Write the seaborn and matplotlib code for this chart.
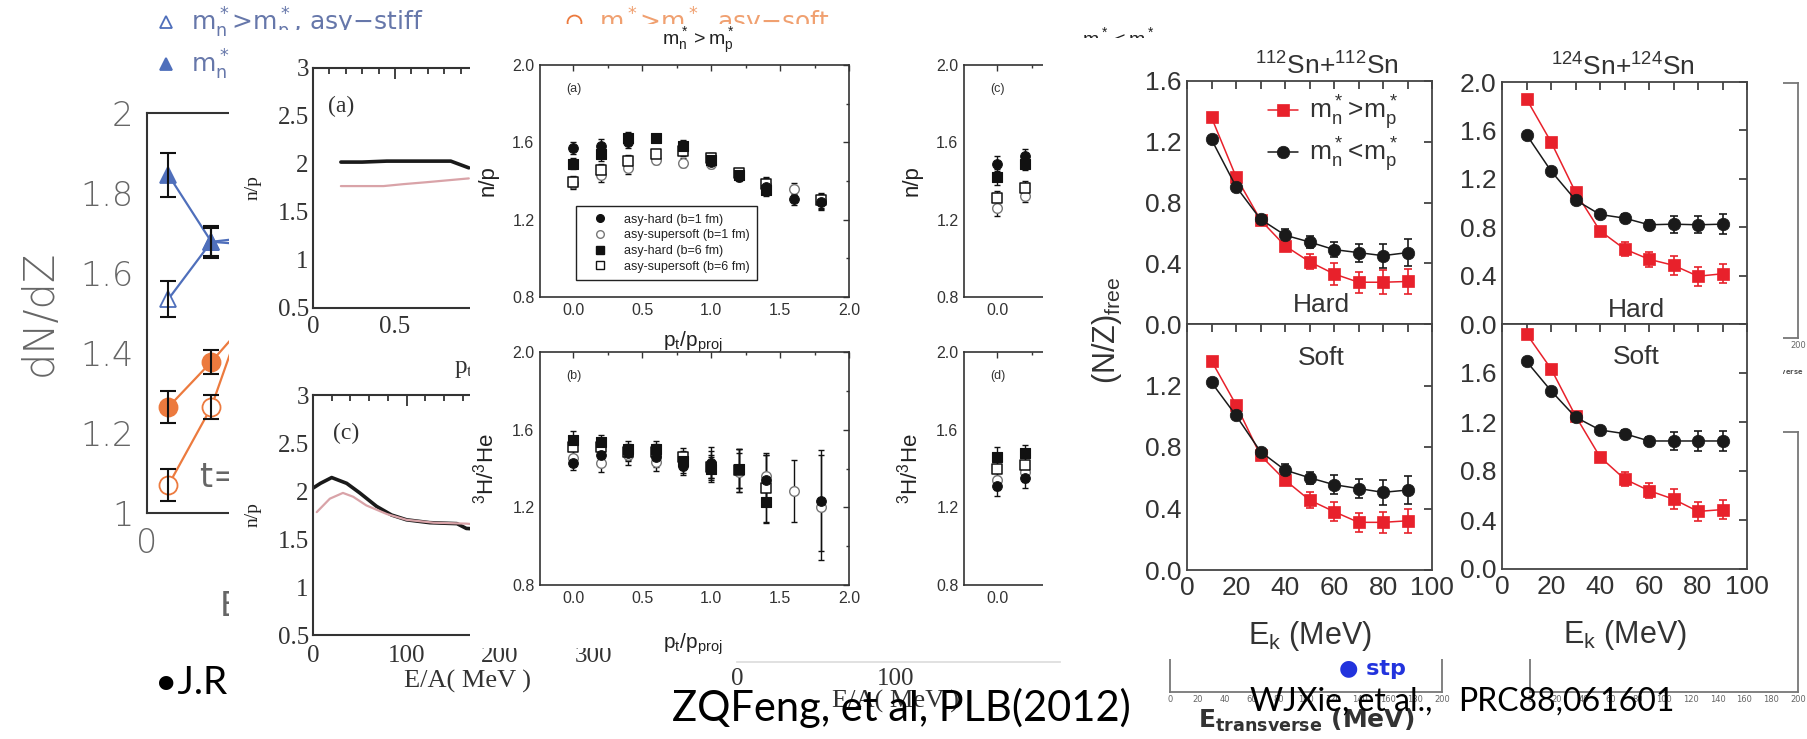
import matplotlib
matplotlib.use("Agg")
import matplotlib.pyplot as plt
import seaborn as sns
from matplotlib.lines import Line2D
from matplotlib.ticker import FixedLocator, FuncFormatter, MultipleLocator

# ====================== DATA ======================
# --- J.R. panel: dN/dZ ---
jr_t = [11, 33, 55]
jr_stiff_gt = [1.535, 1.678, 1.69]
jr_stiff_gt_err = [0.045, 0.035, 0.03]
jr_stiff_lt = [1.845, 1.678, 1.67]
jr_stiff_lt_err = [0.055, 0.04, 0.03]
jr_soft_lt = [1.265, 1.378, 1.50]
jr_soft_lt_err = [0.04, 0.03, 0.03]
jr_soft_gt = [1.07, 1.265, 1.57]
jr_soft_gt_err = [0.04, 0.03, 0.03]
jr_yticks = [1.0, 1.2, 1.4, 1.6, 1.8, 2.0]
jr_labels_blue = [r'$\mathregular{m^*_n}$>$\mathregular{m^*_p}$, asy$-$stiff',
                  r'$\mathregular{m^*_n}$<$\mathregular{m^*_p}$, asy$-$stiff']
jr_labels_orange = [r'$\mathregular{m^*_n}$>$\mathregular{m^*_p}$, asy$-$soft',
                    r'$\mathregular{m^*_n}$<$\mathregular{m^*_p}$, asy$-$soft']

# --- left n/p panels (a) vs p_t, (c) vs E/A ---
npa_x_black = [0.17, 0.30, 0.45, 0.60, 0.75, 0.84, 0.95]
npa_black = [2.02, 2.02, 2.03, 2.03, 2.03, 2.03, 1.96]
npa_x_pink = [0.17, 0.30, 0.43, 0.55, 0.69, 0.82, 0.95]
npa_pink = [1.77, 1.77, 1.77, 1.79, 1.81, 1.83, 1.85]
npc_e_black = [0, 8, 20, 36, 50, 68, 84, 100, 125, 154, 164, 200, 250, 300]
npc_black = [2.03, 2.08, 2.14, 2.08, 1.98, 1.84, 1.75, 1.70, 1.67, 1.66, 1.61, 1.59, 1.56, 1.53]
npc_e_pink = [4, 18, 32, 43, 57, 79, 100, 129, 164, 200, 250, 300]
npc_pink = [1.78, 1.92, 1.98, 1.94, 1.85, 1.76, 1.70, 1.67, 1.66, 1.63, 1.60, 1.57]

# --- Feng panels ---
pt = [0.0, 0.2, 0.4, 0.6, 0.8, 1.0, 1.2, 1.4, 1.6, 1.8]
np_hard1 = [1.57, 1.58, 1.60, 1.62, 1.585, 1.50, 1.42, 1.37, 1.305, 1.29]
np_soft1 = [1.39, 1.43, 1.465, 1.51, 1.495, 1.49, 1.435, 1.38, 1.36, 1.295]
np_hard6 = [1.49, 1.54, 1.625, 1.62, 1.58, 1.51, 1.43, 1.355, float('nan'), float('nan')]
np_soft6 = [1.395, 1.455, 1.505, 1.54, 1.555, 1.52, 1.44, 1.385, float('nan'), 1.30]
np_err = [0.03, 0.035, 0.03, 0.02, 0.025, 0.025, 0.02, 0.035, 0.03, 0.04]
he_hard1 = [1.43, 1.47, 1.48, 1.46, 1.415, 1.43, 1.40, 1.34, float('nan'), 1.235]
he_hard1_err = [0.04, 0.04, 0.04, 0.05, 0.05, 0.08, 0.10, 0.13, 0.0, 0.26]
he_soft1 = [1.455, 1.43, 1.47, 1.435, 1.425, 1.41, 1.38, 1.36, 1.285, 1.20]
he_soft1_err = [0.04, 0.05, 0.05, 0.05, 0.05, 0.08, 0.10, 0.12, 0.16, 0.27]
he_hard6 = [1.545, 1.535, 1.50, 1.50, 1.44, 1.40, 1.40, 1.228, float('nan'), float('nan')]
he_hard6_err = [0.05, 0.04, 0.04, 0.04, 0.05, 0.06, 0.10, 0.11, 0.0, 0.0]
he_soft6 = [1.51, 1.51, 1.485, 1.485, 1.458, 1.41, 1.39, 1.297, float('nan'), float('nan')]
he_soft6_err = [0.04, 0.04, 0.04, 0.04, 0.05, 0.06, 0.11, 0.17, 0.0, 0.0]
pt_c = [0.0, 0.2]
npc2_hard1 = [1.49, 1.53]
npc2_soft1 = [1.26, 1.325]
npc2_hard6 = [1.42, 1.49]
npc2_soft6 = [1.31, 1.365]
hed_hard1 = [1.31, 1.35]
hed_soft1 = [1.34, 1.38]
hed_hard6 = [1.46, 1.48]
hed_soft6 = [1.40, 1.42]
feng_labels = ['asy-hard (b=1 fm)', 'asy-supersoft (b=1 fm)',
               'asy-hard (b=6 fm)', 'asy-supersoft (b=6 fm)']

# --- WJXie panels ---
ek = [10, 20, 30, 40, 50, 60, 70, 80, 90]
s112_hard_gt = [1.36, 0.97, 0.685, 0.515, 0.41, 0.33, 0.275, 0.275, 0.28]
s112_hard_gt_err = [0.01, 0.01, 0.02, 0.03, 0.05, 0.07, 0.07, 0.08, 0.08]
s112_hard_lt = [1.215, 0.905, 0.69, 0.585, 0.54, 0.49, 0.47, 0.45, 0.47]
s112_hard_lt_err = [0.01, 0.01, 0.02, 0.04, 0.04, 0.05, 0.06, 0.08, 0.09]
s112_soft_gt = [1.36, 1.075, 0.745, 0.585, 0.455, 0.38, 0.31, 0.31, 0.32]
s112_soft_gt_err = [0.01, 0.01, 0.02, 0.03, 0.05, 0.06, 0.06, 0.07, 0.08]
s112_soft_lt = [1.22, 1.005, 0.77, 0.65, 0.60, 0.555, 0.53, 0.505, 0.52]
s112_soft_lt_err = [0.01, 0.01, 0.02, 0.04, 0.04, 0.06, 0.06, 0.08, 0.09]
s124_hard_gt = [1.86, 1.505, 1.09, 0.77, 0.62, 0.535, 0.485, 0.395, 0.415]
s124_hard_gt_err = [0.01, 0.01, 0.02, 0.03, 0.06, 0.06, 0.08, 0.08, 0.08]
s124_hard_lt = [1.565, 1.265, 1.025, 0.905, 0.875, 0.82, 0.825, 0.82, 0.825]
s124_hard_lt_err = [0.01, 0.01, 0.02, 0.02, 0.03, 0.04, 0.07, 0.07, 0.08]
s124_soft_gt = [1.92, 1.635, 1.25, 0.915, 0.735, 0.64, 0.57, 0.47, 0.485]
s124_soft_gt_err = [0.01, 0.01, 0.02, 0.03, 0.06, 0.06, 0.08, 0.08, 0.08]
s124_soft_lt = [1.695, 1.455, 1.24, 1.135, 1.105, 1.045, 1.045, 1.045, 1.045]
s124_soft_lt_err = [0.01, 0.01, 0.02, 0.02, 0.03, 0.03, 0.07, 0.08, 0.08]
wj_labels = [r'$\mathregular{m^*_n\!>\!m^*_p}$', r'$\mathregular{m^*_n\!<\!m^*_p}$']

# ====================== FIGURE ======================
sns.set_theme(style='white')
plt.rcParams['font.family'] = ['DejaVu Sans']
plt.rcParams['axes.unicode_minus'] = False

W, H = 1807, 739
fig = plt.figure(figsize=(W / 100, H / 100), dpi=100)
fig.patch.set_facecolor('white')

SANS = ['Liberation Sans', 'DejaVu Sans']
SERIF = ['Liberation Serif', 'DejaVu Serif']
CAL = ['Lato', 'DejaVu Sans']


def rect(l, t, r, b):
    return [l / W, 1 - b / H, (r - l) / W, (b - t) / H]


def cover(l, t, r, b, z):
    """A blank white pane, standing for the edge of an overlapping pasted picture."""
    c = fig.add_axes(rect(l, t, r, b), zorder=z)
    c.set_facecolor('white')
    c.set_xticks([])
    c.set_yticks([])
    for s in c.spines.values():
        s.set_visible(False)
    return c


def style_ticks(ax, fam, size, color, lmaj, lmin, width, pad=3, top=True, right=True):
    ax.tick_params(which='both', direction='in', top=top, right=right,
                   colors=color, width=width, pad=pad)
    ax.tick_params(which='major', length=lmaj, labelsize=size)
    ax.tick_params(which='minor', length=lmin)
    for lab in ax.get_xticklabels() + ax.get_yticklabels():
        lab.set_family(fam)


# ---------- layer 1 : J.R. dN/dZ (cut at x=229 by the next picture) ----------
BLUE = '#4f6fbb'
ORANGE = '#ec7a3e'
GRAYTXT = '#666666'
JR_R = 229
ax0 = fig.add_axes(rect(147, 113, JR_R, 513), zorder=1)
series_jr = [(jr_stiff_gt, jr_stiff_gt_err, BLUE, '^', False, 12),
             (jr_stiff_lt, jr_stiff_lt_err, BLUE, '^', True, 12),
             (jr_soft_lt, jr_soft_lt_err, ORANGE, 'o', True, 13),
             (jr_soft_gt, jr_soft_gt_err, ORANGE, 'o', False, 13)]
for yv, ev, c, mk, filled, ms in series_jr:
    sns.lineplot(x=jr_t, y=yv, ax=ax0, color=c, lw=1.6, marker=mk, markersize=ms,
                 markerfacecolor=c if filled else 'white', markeredgecolor=c,
                 markeredgewidth=1.3, estimator=None, sort=False, zorder=3)
    ax0.errorbar(jr_t, yv, yerr=ev, fmt='none', ecolor='#111111', elinewidth=1.5,
                 capsize=5.5, capthick=1.5, zorder=5)
ax0.set_xlim(0, (JR_R - 147) / 1.95)
ax0.set_ylim(1, 2)
ax0.yaxis.set_major_locator(FixedLocator(jr_yticks))
ax0.yaxis.set_minor_locator(MultipleLocator(0.05))
ax0.yaxis.set_major_formatter(FuncFormatter(lambda v, p: '%g' % v))
ax0.xaxis.set_major_locator(FixedLocator([0]))
ax0.xaxis.set_minor_locator(FixedLocator([18, 38]))
ax0.tick_params(which='both', direction='in', top=False, right=False,
                colors='#222222', labelcolor=GRAYTXT, width=1.5)
ax0.tick_params(which='major', length=16, labelsize=24, pad=10)
ax0.tick_params(which='minor', length=8)
ax0.tick_params(axis='x', which='both', length=6)
for lab in ax0.get_xticklabels() + ax0.get_yticklabels():
    lab.set_fontweight('light')
for k, s in ax0.spines.items():
    s.set_color('#333333')
    s.set_linewidth(1.5)
ax0.spines['right'].set_visible(False)
ax0.set_ylabel('dN/dZ', fontsize=30, color=GRAYTXT, fontweight='light')
ax0.yaxis.set_label_coords((60 - 147) / (JR_R - 147), 0.5)
ax0.text((200 - 147) / 1.95, 1.09, 't=200 fm/c', fontsize=24, color=GRAYTXT,
         ha='left', va='center', zorder=6)
ax0.text((220 - 147) / 1.95, 1 - (607 - 513) / 400, 'E (MeV)', fontsize=24,
         color=GRAYTXT, ha='left', va='center', clip_on=False)
h_blue = [Line2D([], [], ls='none', marker='^', ms=9, mfc='white', mec=BLUE, mew=1.3),
          Line2D([], [], ls='none', marker='^', ms=9, mfc=BLUE, mec=BLUE, mew=1.3)]
h_or = [Line2D([], [], ls='none', marker='o', ms=10, mfc='white', mec=ORANGE, mew=1.3),
        Line2D([], [], ls='none', marker='o', ms=10, mfc=ORANGE, mec=ORANGE, mew=1.3)]
leg_b = ax0.legend(h_blue, jr_labels_blue, loc='upper left',
                   bbox_to_anchor=(136 / W, 1 + 12 / H), bbox_transform=fig.transFigure,
                   frameon=False, fontsize=18, handlelength=1.0, handletextpad=0.5,
                   labelspacing=0.12, borderpad=0.2, labelcolor='#6677aa')
ax0.add_artist(leg_b)
ax0.legend(h_or, jr_labels_orange, loc='upper left',
           bbox_to_anchor=(544 / W, 1 + 12 / H), bbox_transform=fig.transFigure,
           frameon=False, fontsize=18, handlelength=1.0, handletextpad=0.5,
           labelspacing=0.12, borderpad=0.2, labelcolor='#f0a070')

# ---------- layer 2 : left n/p picture ----------
cover(JR_R, 30, 470, 668, 2)
axA = fig.add_axes(rect(313, 68, 560, 308), zorder=2.1)
axC = fig.add_axes(rect(313, 395, 640, 635), zorder=2.2)
sns.lineplot(x=npa_x_black, y=npa_black, ax=axA, color='#1a1a1a', lw=2.6,
             estimator=None, sort=False)
sns.lineplot(x=npa_x_pink, y=npa_pink, ax=axA, color='#d9a3a8', lw=1.6,
             estimator=None, sort=False)
sns.lineplot(x=npc_e_black, y=npc_black, ax=axC, color='#1a1a1a', lw=2.6,
             estimator=None, sort=False)
sns.lineplot(x=npc_e_pink, y=npc_pink, ax=axC, color='#d9a3a8', lw=1.6,
             estimator=None, sort=False)
axA.set_xlim(0, (560 - 313) / 164)
axC.set_xlim(0, (640 - 313) / 0.935)
for ax, lab in [(axA, '(a)'), (axC, '(c)')]:
    ax.set_ylim(0.5, 3)
    ax.yaxis.set_major_locator(MultipleLocator(0.5))
    ax.yaxis.set_minor_locator(MultipleLocator(0.25))
    ax.yaxis.set_major_formatter(FuncFormatter(lambda v, p: '%g' % v))
    ax.xaxis.set_major_formatter(FuncFormatter(lambda v, p: '%g' % v))
    style_ticks(ax, SERIF, 18, '#333333', 8, 4, 1.3, pad=3)
    for s in ax.spines.values():
        s.set_color('#333333')
        s.set_linewidth(1.5)
    ax.set_ylabel('n/p', family=SERIF, fontsize=14, color='#222222')
    ax.text(0.06, 0.84, lab, transform=ax.transAxes, family=SERIF, fontsize=17,
            color='#333333', ha='left', va='center')
axA.xaxis.set_major_locator(MultipleLocator(0.5))
axA.xaxis.set_minor_locator(MultipleLocator(0.1))
axA.tick_params(axis='x', pad=6)
axC.xaxis.set_major_locator(MultipleLocator(100))
axC.xaxis.set_minor_locator(MultipleLocator(20))
axC.tick_params(axis='x', pad=7)
axA.yaxis.set_label_coords((262 - 313) / 247, 0.5)
axC.yaxis.set_label_coords((262 - 313) / 327, 0.5)
axA.set_xlabel(r'$\mathregular{p_t/p_{proj}}$', family=SERIF, fontsize=18, color='#333333')
axA.xaxis.set_label_coords((487 - 313) / 247, -(355 - 308) / 240)
axC.set_xlabel('E/A( MeV )', family=SERIF, fontsize=19, color='#333333')
axC.xaxis.set_label_coords((468 - 313) / 327, -(670 - 635) / 240)

# second E/A fragment below the Feng picture
axE = fig.add_axes(rect(737, 560, 1060, 662), zorder=2.5)
axE.set_xlim(0, (1060 - 737) / 1.59)
axE.set_ylim(0, 1)
axE.set_yticks([])
axE.xaxis.set_major_locator(FixedLocator([0, 100]))
axE.tick_params(axis='x', length=0, labelsize=18, pad=4, colors='#333333')
for lab in axE.get_xticklabels():
    lab.set_family(SERIF)
for k, s in axE.spines.items():
    s.set_visible(k == 'bottom')
axE.spines['bottom'].set_color('#dddddd')
axE.set_xlabel('E/A( MeV )', family=SERIF, fontsize=19, color='#333333')
axE.xaxis.set_label_coords((896 - 737) / 323, -(690 - 662) / 102)
axE.set_facecolor('none')

# ---------- layer 3 : Feng picture ----------
cover(470, 24, 1043, 648, 3)
axFa = fig.add_axes(rect(540, 65, 849, 297), zorder=3.1)
axFb = fig.add_axes(rect(540, 352, 849, 585), zorder=3.2)
axFc = fig.add_axes(rect(964, 65, 1273, 297), zorder=3.3)
axFd = fig.add_axes(rect(964, 352, 1273, 585), zorder=3.4)


def feng_points(ax, x, h1, s1, h6, s6, e_h1, e_s1, e_h6, e_s6):
    for yv, ev in [(h1, e_h1), (s1, e_s1), (h6, e_h6), (s6, e_s6)]:
        ax.errorbar(x, yv, yerr=ev, fmt='none', ecolor='#111111', elinewidth=1.0,
                    capsize=2.5, capthick=1.0, zorder=2)
    sns.scatterplot(x=x, y=s1, ax=ax, marker='o', s=48, color='white',
                    edgecolor='#777777', linewidth=1.0, zorder=3)
    sns.scatterplot(x=x, y=s6, ax=ax, marker='s', s=44, color='white',
                    edgecolor='#111111', linewidth=1.1, zorder=4)
    sns.scatterplot(x=x, y=h6, ax=ax, marker='s', s=44, color='#111111',
                    edgecolor='#111111', linewidth=0.8, zorder=5)
    sns.scatterplot(x=x, y=h1, ax=ax, marker='o', s=48, color='#111111',
                    edgecolor='#111111', linewidth=0.8, zorder=6)


feng_points(axFa, pt, np_hard1, np_soft1, np_hard6, np_soft6,
            np_err, np_err, np_err, np_err)
feng_points(axFb, pt, he_hard1, he_soft1, he_hard6, he_soft6,
            he_hard1_err, he_soft1_err, he_hard6_err, he_soft6_err)
feng_points(axFc, pt_c, npc2_hard1, npc2_soft1, npc2_hard6, npc2_soft6,
            [0.04, 0.035], [0.04, 0.035], [0.04, 0.035], [0.04, 0.035])
feng_points(axFd, pt_c, hed_hard1, hed_soft1, hed_hard6, hed_soft6,
            [0.05, 0.05], [0.05, 0.05], [0.05, 0.04], [0.05, 0.04])
for ax, lab, ylab in [(axFa, '(a)', 'n/p'), (axFb, '(b)', r'$\mathregular{^3H/^3He}$'),
                      (axFc, '(c)', 'n/p'), (axFd, '(d)', r'$\mathregular{^3H/^3He}$')]:
    ax.set_xlim(-0.24, 2.0)
    ax.set_ylim(0.8, 2.0)
    ax.yaxis.set_major_locator(MultipleLocator(0.4))
    ax.yaxis.set_minor_locator(MultipleLocator(0.2))
    ax.xaxis.set_major_locator(MultipleLocator(0.5))
    ax.xaxis.set_minor_locator(MultipleLocator(0.25))
    ax.yaxis.set_major_formatter(FuncFormatter(lambda v, p: '%.1f' % v))
    ax.xaxis.set_major_formatter(FuncFormatter(lambda v, p: '%.1f' % v))
    style_ticks(ax, SANS, 11.5, '#333333', 4, 2.5, 1.0, pad=4)
    for s in ax.spines.values():
        s.set_color('#333333')
        s.set_linewidth(1.2)
    ax.text(0.085, 0.895, lab, transform=ax.transAxes, family=SANS, fontsize=9,
            color='#333333', ha='left', va='center')
    ax.set_ylabel(ylab, family=SANS, fontsize=16, color='#222222')
    ax.yaxis.set_label_coords(-0.135, 0.5)
    ax.set_xlabel('')
for ax, yl in ((axFa, -0.14), (axFb, -0.2)):
    ax.set_xlabel(r'$\mathregular{p_t/p_{proj}}$', family=SANS, fontsize=15,
                  color='#222222')
    ax.xaxis.set_label_coords((693 - 540) / 309, yl)
feng_handles = [Line2D([], [], ls='none', marker='o', ms=5.5, mfc='#111111', mec='#111111'),
                Line2D([], [], ls='none', marker='o', ms=5.5, mfc='white', mec='#777777'),
                Line2D([], [], ls='none', marker='s', ms=5.5, mfc='#111111', mec='#111111'),
                Line2D([], [], ls='none', marker='s', ms=5.5, mfc='white', mec='#111111')]
legF = axFa.legend(feng_handles, feng_labels, loc='upper left',
                   bbox_to_anchor=((576 - 540) / 309, (297 - 206) / 232),
                   prop={'family': SANS, 'size': 9}, frameon=True, fancybox=False,
                   edgecolor='#222222', borderpad=0.6, handlelength=2.6,
                   handletextpad=0.6, labelspacing=0.3, framealpha=1,
                   borderaxespad=0)
legF.get_frame().set_linewidth(1.0)
for t in legF.get_texts():
    t.set_color('#222222')
fig.text(698 / W, 1 - 41 / H, r'$\mathregular{m^*_n{>}m^*_p}$', family=SANS,
         fontsize=14, ha='center', va='center', zorder=3.6, color='#222222')
fig.text(1118 / W, 1 - 42 / H, r'$\mathregular{m^*_n{<}m^*_p}$', family=SANS,
         fontsize=14, ha='center', va='center', zorder=3.6, color='#222222')

# ---------- layer 3.5 : E_transverse fragments (right) ----------
for r_, name in [((1170, 440, 1442, 692), 'EtL'), ((1530, 432, 1798, 692), 'EtR'),
                 ((1530, 83, 1798, 338), 'EtT')]:
    axT = fig.add_axes(rect(*r_), zorder=3.5)
    axT.set_xlim(0, 200)
    axT.set_ylim(0, 1)
    axT.set_yticks([])
    axT.xaxis.set_major_locator(MultipleLocator(20))
    axT.xaxis.set_minor_locator(MultipleLocator(5))
    axT.tick_params(which='both', direction='in', top=False, colors='#666666',
                    labelsize=6, pad=2)
    axT.tick_params(which='major', length=5)
    axT.tick_params(which='minor', length=3)
    for s in axT.spines.values():
        s.set_color('#777777')
        s.set_linewidth(1.3)
    if name == 'EtL':
        axT.set_xlabel(r'$\mathregular{E_{transverse}}$ (MeV)', fontsize=18,
                       fontweight='bold', color='#333333')
        axT.xaxis.set_label_coords(0.5, -0.06)
        axT.text(0.62, (692 - 669) / 252, '\u25cf stp', transform=axT.transAxes,
                 color='#2233dd', fontsize=16, fontweight='bold', ha='left', va='center')
    if name == 'EtT':
        axT.set_xlabel(r'$\mathregular{E_{transverse}}$', fontsize=7,
                       fontweight='bold', color='#555555')
        axT.xaxis.set_label_coords(0.93, -0.1)

# ---------- layer 4 : WJXie picture ----------
cover(1043, 38, 1783, 659, 4)
RED = '#e8212b'
BLK = '#1a1a1a'
ax1U = fig.add_axes(rect(1187, 81, 1432, 324), zorder=4.1)
ax1L = fig.add_axes(rect(1187, 324, 1432, 570), zorder=4.2)
ax2U = fig.add_axes(rect(1502, 82, 1747, 324), zorder=4.3)
ax2L = fig.add_axes(rect(1502, 324, 1747, 569), zorder=4.4)
wj_sets = [(ax1U, s112_hard_gt, s112_hard_gt_err, s112_hard_lt, s112_hard_lt_err, 1.6, 'Hard', 0.125),
           (ax1L, s112_soft_gt, s112_soft_gt_err, s112_soft_lt, s112_soft_lt_err, 1.6, 'Soft', 1.38),
           (ax2U, s124_hard_gt, s124_hard_gt_err, s124_hard_lt, s124_hard_lt_err, 2.0, 'Hard', 0.115),
           (ax2L, s124_soft_gt, s124_soft_gt_err, s124_soft_lt, s124_soft_lt_err, 2.0, 'Soft', 1.73)]
for i, (ax, rv, re_, bv, be, ymax, tag, ty) in enumerate(wj_sets):
    ax.errorbar(ek, rv, yerr=re_, fmt='none', ecolor=RED, elinewidth=1.2,
                capsize=3, capthick=1.2, zorder=2)
    ax.errorbar(ek, bv, yerr=be, fmt='none', ecolor=BLK, elinewidth=1.2,
                capsize=3, capthick=1.2, zorder=2)
    sns.lineplot(x=ek, y=rv, ax=ax, color=RED, lw=1.1, marker='s', markersize=8.5,
                 markerfacecolor=RED, markeredgecolor=RED, markeredgewidth=0.5,
                 estimator=None, sort=False, zorder=3, label=wj_labels[0])
    sns.lineplot(x=ek, y=bv, ax=ax, color=BLK, lw=1.1, marker='o', markersize=9,
                 markerfacecolor=BLK, markeredgecolor=BLK, markeredgewidth=0.5,
                 estimator=None, sort=False, zorder=4, label=wj_labels[1])
    ax.set_xlim(0, 100)
    ax.set_ylim(0, ymax)
    upper = (i % 2 == 0)
    ax.yaxis.set_major_locator(FixedLocator([v * 0.4 for v in range(int(round(ymax / 0.4)) + 1)]))
    if upper:
        ax.yaxis.set_major_formatter(FuncFormatter(lambda v, p: '%.1f' % v))
    else:
        ax.yaxis.set_major_formatter(FuncFormatter(
            lambda v, p, m=ymax: '' if v > m - 0.05 else '%.1f' % v))
    ax.xaxis.set_major_locator(MultipleLocator(20))
    ax.xaxis.set_minor_locator(MultipleLocator(10))
    ax.xaxis.set_major_formatter(FuncFormatter(lambda v, p: '%d' % v))
    style_ticks(ax, SANS, 19, '#333333', 6, 6, 1.2, pad=4)
    if upper:
        ax.tick_params(axis='x', labelbottom=False)
    for s in ax.spines.values():
        s.set_color('#444444')
        s.set_linewidth(1.3)
    ax.text(55, ty, tag, family=SANS, fontsize=19, color='#333333',
            ha='center', va='center')
    ax.set_xlabel('')
    ax.set_ylabel('')
    if i == 0:
        lg = ax.legend(loc='upper left', bbox_to_anchor=(0.245, 1.035),
                       prop={'family': SANS, 'size': 19}, frameon=False,
                       handlelength=1.15, handletextpad=0.4, labelspacing=0.12,
                       borderpad=0.3)
        for t in lg.get_texts():
            t.set_color('#333333')
    else:
        if ax.get_legend() is not None:
            ax.get_legend().remove()
for ax in (ax1L, ax2L):
    ax.set_xlabel(r'$\mathregular{E_k}$ (MeV)', family=SANS, fontsize=22,
                  color='#333333', labelpad=14)
ax1U.text(0.571, 1.005, r'$\mathregular{^{112}Sn{+}^{112}Sn}$', transform=ax1U.transAxes,
          family=SANS, fontsize=19, color='#333333', ha='center', va='bottom')
ax2U.text(0.494, 1.005, r'$\mathregular{^{124}Sn{+}^{124}Sn}$', transform=ax2U.transAxes,
          family=SANS, fontsize=19, color='#333333', ha='center', va='bottom')
fig.text(1107 / W, 1 - 330 / H, r'$\mathregular{(N/Z)_{free}}$', family=SANS,
         fontsize=22, color='#333333', rotation=90, ha='center', va='center', zorder=4.6)

# ---------- citations ----------
fig.text(155 / W, 1 - 683 / H, '\u2022J.R', family=CAL, fontsize=28, color='black',
         ha='left', va='center', zorder=6)
fig.text(672 / W, 1 - 708 / H, 'ZQFeng, et al, PLB(2012)', family=CAL, fontsize=30,
         color='black', ha='left', va='center', zorder=6)
fig.text(1250 / W, 1 - 702 / H, 'WJXie, et al.,', family=CAL, fontsize=23,
         color='black', ha='left', va='center', zorder=6)
fig.text(1458 / W, 1 - 702 / H, 'PRC88,061601', family=CAL, fontsize=23,
         color='black', ha='left', va='center', zorder=6)

fig.savefig('out.png', dpi=100, facecolor='white')
